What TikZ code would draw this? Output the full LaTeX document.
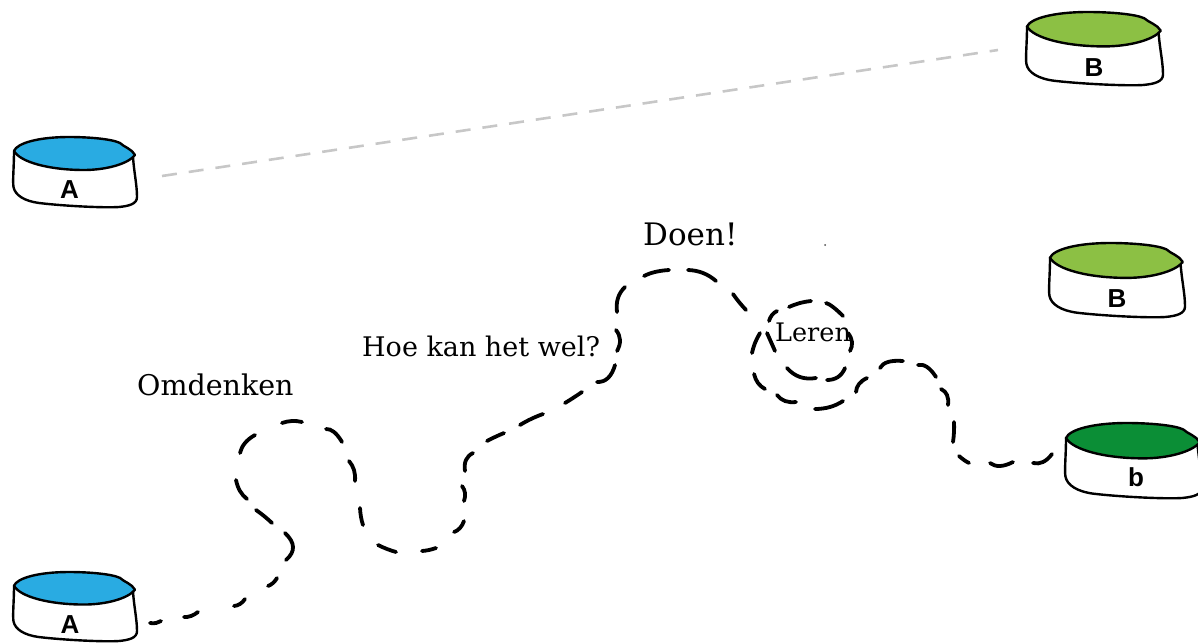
\documentclass[tikz,border=0pt]{standalone}
\usepackage{fontspec}
\setmainfont{DejaVu Serif}
\newfontfamily\lblfont{Liberation Sans}
\definecolor{waterA}{HTML}{29ABE2}
\definecolor{waterB}{HTML}{8CC044}
\definecolor{waterC}{HTML}{0B8E36}
\newcommand{\bowl}[9]{% name, left, top, width, height, colour, letter, letter x, letter baseline y
  \begin{scope}[shift={(#2,#3)},xscale=#4/123,yscale=#5/70]
    \draw[bowlline,fill=white] (0,14) .. controls (0,30) and (-1.5,44) .. (-0.5,50) .. controls (1,58) and (10,64) .. (25,66) .. controls (50,69) and (90,71) .. (105,70) .. controls (115,69) and (123,67) .. (123,60) .. controls (123,48) and (120,35) .. (119,20) -- cycle;
    \draw[bowlline,fill=#6] (0,14) .. controls (3,6) and (25,0) .. (55,0) .. controls (75,0) and (98,2) .. (106,6) .. controls (110,10) and (118,12) .. (121,18) .. controls (114,27) and (92,33) .. (70,33) .. controls (35,33) and (6,25) .. cycle;
  \end{scope}
  \node[bowlletter] (#1) at (#8,#9) {#7};
}
\tikzset{
  bowlline/.style={draw=black,line width=2.4pt,line join=round},
  bowlletter/.style={anchor=base,inner sep=0pt,font=\lblfont\bfseries\fontsize{26}{26}\selectfont},
  roadline/.style={draw=black,line width=3.8pt,line cap=round},
  straightline/.style={draw=black!22,line width=2.6pt,dash pattern=on 15pt off 12pt},
  talk/.style={anchor=base west,inner sep=0pt,text=black}
}
\begin{document}
\begin{tikzpicture}[x=1pt,y=-1pt]
\useasboundingbox (0,0) rectangle (1198,642);
\clip (0,0) rectangle (1198,642);

\coordinate (lineStart) at (162,176);
\coordinate (lineEnd) at (998,50);
\draw[straightline] (lineStart) -- (lineEnd);

\bowl{topA}{14}{137}{123}{70}{waterA}{A}{69.5}{198}
\bowl{botA}{14}{572}{123}{69}{waterA}{A}{70}{633}
\bowl{topB}{1027}{12}{136}{73}{waterB}{B}{1094}{76}
\bowl{midB}{1050}{243}{135}{74}{waterB}{B}{1117}{307}
\bowl{lowb}{1066}{423}{136}{75}{waterC}{b}{1136}{486}

\foreach \xa/\ya/\xm/\ym/\xb/\yb in {
 150/623/156/623/161/621,
 184/617/191/616/198/612,
 234/606/240/604/245/599,
 268/586/273/583/277/578,
 286/560/293/547/285/533,
 272/523/264/516/256/510,
 247/499/240/491/236/480,
 240/453/245/443/255/435,
 282/423/292/421/302/422,
 326/429/334/432/342/442,
 349/461/354/470/355/481,
 360/508/361/517/363/525,
 378/545/387/549/396/552,
 422/551/429/550/436/548,
 454/532/460/528/464/521,
 462/486/465/493/464/501,
 465/471/466/460/473/453,
 487/441/495/437/504/433,
 520/425/531/419/543/414,
 565/403/573/398/582/392,
 597/382/608/378/615/365,
 616/330/620/340/617/351,
 617/312/618/298/625/287,
 644/276/655/272/669/270,
 688/270/703/273/716/281,
 733/294/739/302/746/310,
 767/333/771/342/775/351,
 787/368/800/377/816/378,
 827/380/838/377/845/368,
 850/351/852/342/848/333,
 843/316/833/307/826/303,
 811/301/800/303/789/307,
 777/311/772/315/769/321,
 760/333/755/343/752/353,
 754/374/758/383/765/389,
 777/395/785/401/796/402,
 815/409/830/407/843/401,
 856/392/859/384/867/378,
 880/368/888/362/903/361,
 918/365/927/367/936/377,
 941/389/947/395/948/405,
 954/422/954/432/953/442,
 959/456/964/460/969/463,
 990/463/1000/466/1013/462,
 1033/463/1043/462/1052/454}
{
  \draw[roadline] (\xa,\ya) .. controls
    ({\xa/3+2/3*(2*\xm-(\xa+\xb)/2)},{\ya/3+2/3*(2*\ym-(\ya+\yb)/2)}) and
    ({\xb/3+2/3*(2*\xm-(\xa+\xb)/2)},{\yb/3+2/3*(2*\ym-(\ya+\yb)/2)}) .. (\xb,\yb);
}

\node[talk,font=\fontsize{31}{31}\selectfont] (doen) at (643,245) {Doen!};
\node[talk,font=\fontsize{27}{27}\selectfont] (hoe) at (362,356) {Hoe kan het wel?};
\node[talk,font=\fontsize{28.5}{28.5}\selectfont] (omd) at (137,395) {Omdenken};
\node[talk,font=\fontsize{25.5}{25.5}\selectfont] (leren) at (775,341) {Leren};
\fill[black!70] (825,245) circle (1pt);
\end{tikzpicture}
\end{document}
